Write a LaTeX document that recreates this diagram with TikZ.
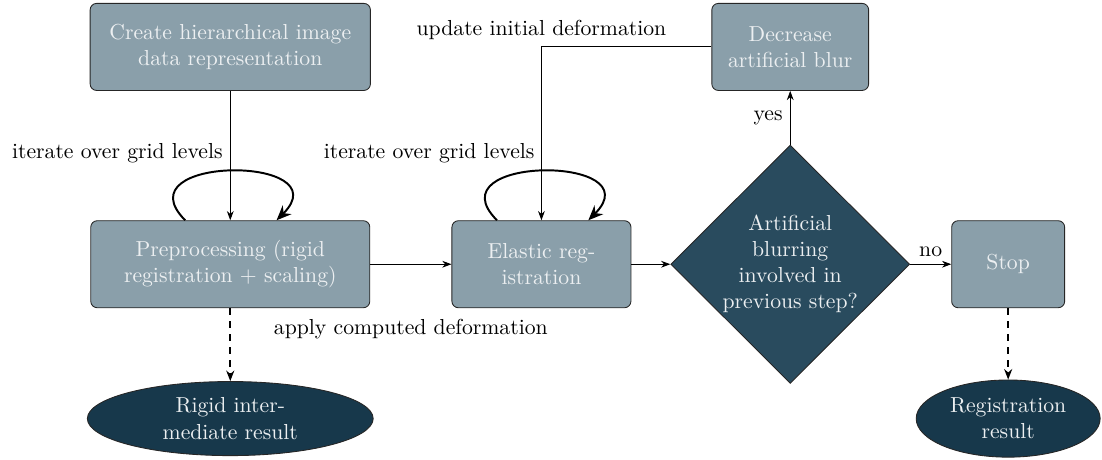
\documentclass[tikz,border=0pt]{standalone}
\usepackage{amsmath}
\usepackage{xcolor}
\usepackage{tikz}
\usetikzlibrary{arrows.meta,positioning,calc,shapes.geometric}
\definecolor{stepgray}{HTML}{8A9FAA}
\definecolor{decisionblue}{HTML}{294B5E}
\definecolor{resultblue}{HTML}{17384B}
\definecolor{nodetext}{HTML}{ECEFF1}
\tikzset{
  regstep/.style={draw=black!85,rounded corners=3pt,fill=stepgray,text=nodetext,minimum height=14.1mm,align=center,inner sep=2pt},
  regdecision/.style={diamond,aspect=1,draw=black!85,fill=decisionblue,text=nodetext,minimum width=38.7mm,minimum height=38.6mm,align=center,inner sep=0pt},
  regresult/.style={ellipse,draw=black!85,fill=resultblue,text=nodetext,align=center,inner sep=0pt},
  regflow/.style={-{Stealth[length=1.5mm,width=1.1mm]},line width=0.4pt},
  regloop/.style={-{Stealth[length=2.4mm,width=2mm]},line width=0.9pt},
  regoutput/.style={-{Stealth[length=1.7mm,width=1.3mm]},line width=0.8pt,dashed}
}

\begin{document}
\begin{tikzpicture}[on grid]
  \node[regstep,minimum width=45.2mm] (prep) {Preprocessing (rigid\\registration + scaling)};
  \node[regstep,minimum width=45.4mm,above=35.2mm of prep] (create) {Create hierarchical image\\data representation};
  \node[regstep,minimum width=29mm,right=50.4mm of prep] (elastic) {Elastic reg-\\istration};
  \node[regdecision,right=40.3mm of elastic] (decide) {Artificial\\blurring\\involved in\\previous step?};
  \node[regstep,minimum width=25.4mm,above=35.2mm of decide] (blur) {Decrease\\artificial blur};
  \node[regstep,minimum width=18.3mm,right=35.3mm of decide] (stop) {Stop};
  \node[regresult,minimum width=46.3mm,minimum height=12mm,below=25mm of prep] (rigidres) {Rigid inter-\\mediate result};
  \node[regresult,minimum width=29.8mm,minimum height=12.5mm,below=25mm of stop] (regres) {Registration\\result};
  \useasboundingbox ($(prep.center)+(-37.3mm,42.8mm)$) rectangle ++(178.5mm,-74.5mm);

  \draw[regflow] (create) -- (prep);
  \draw[regloop] ([xshift=-7.3mm]prep.north) to[out=135,in=45,looseness=2.6]
    node[above left] {iterate over grid levels} ([xshift=7.5mm]prep.north);
  \draw[regloop] ([xshift=-7.2mm]elastic.north) to[out=135,in=45,looseness=2.6]
    node[above left] {iterate over grid levels} ([xshift=7.6mm]elastic.north);
  \draw[regflow] (prep) -- node[below=7.7mm] {apply computed deformation} (elastic);
  \draw[regflow] (elastic) -- (decide);
  \draw[regflow] (decide) -- node[left] {yes} (blur);
  \draw[regflow] (decide) -- node[above] {no} (stop);
  \draw[regflow] (blur) -| node[pos=0.5,above] {update initial deformation} (elastic);
  \draw[regoutput] (prep) -- (rigidres);
  \draw[regoutput] (stop) -- (regres);
\end{tikzpicture}
\end{document}
